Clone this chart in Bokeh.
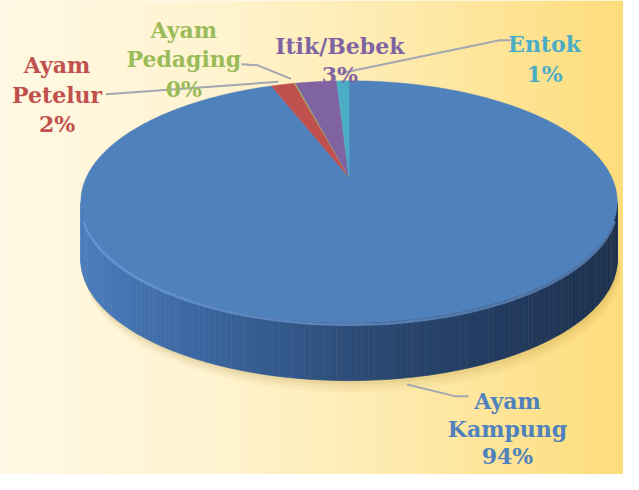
import numpy as np
from bokeh.plotting import figure
from bokeh.models import Range1d
from bokeh.core.properties import value
from bokeh.embed import file_html
from bokeh.resources import INLINE

# ---- data ----
categories = ["Ayam Kampung", "Ayam Petelur", "Ayam Pedaging", "Itik/Bebek", "Entok"]
shares = [94.3, 1.7, 0.1, 3.0, 0.9]
slice_colors = ["#4f81bd", "#c0504d", "#9bbb59", "#8064a2", "#4bacc6"]
label_lines = [["Ayam", "Kampung"], ["Ayam", "Petelur"], ["Ayam", "Pedaging"], ["Itik/Bebek"], ["Entok"]]

# ---- layout (reference pixel space) ----
W, H = 639, 490
X0, Y0, RX, RY, A, DEPTH = 357.5, 183.0, 269.5, 120.0, 0.2, 60.0
label_anchor = [(520, 414), (58, 67), (188, 30), (348, 47), (558, 45)]
line_steps = [28.5, 30.5, 30.5, 30.5, 30.5]
leaders = [
    ([417, 466, 480], [397, 409, 409]),
    ([108, 285], [97, 84]),
    ([247, 264, 298], [66, 67, 81]),
    None,
    ([350, 512, 523], [75, 41, 41]),
]

p = figure(width=623, height=474, x_range=Range1d(0, W), y_range=Range1d(H, 0),
           output_backend="svg", toolbar_location=None,
           x_axis_location=None, y_axis_location=None, min_border=0)
p.grid.visible = False
p.outline_line_color = None
p.background_fill_color = "#fff8e2"
p.border_fill_color = "#fff8e2"


def lerp_color(stops, t):
    t = min(max(t, 0.0), 1.0)
    for (t0, c0), (t1, c1) in zip(stops[:-1], stops[1:]):
        if t <= t1:
            f = (t - t0) / (t1 - t0) if t1 > t0 else 0
            c = [int(round(c0[i] + (c1[i] - c0[i]) * f)) for i in range(3)]
            return "#%02x%02x%02x" % tuple(c)
    return "#%02x%02x%02x" % tuple(stops[-1][1])


# background gradient
bg_stops = [(0.0, (255, 248, 227)), (0.35, (255, 244, 208)), (0.7, (254, 232, 165)), (1.0, (253, 220, 122))]
nb = 80
bx = np.linspace(0, W, nb + 1)
p.quad(left=bx[:-1], right=bx[1:] + 0.5, bottom=H, top=0,
       fill_color=[lerp_color(bg_stops, (bx[i] + bx[i + 1]) / 2 / W) for i in range(nb)],
       line_color=None)


def rim(theta_deg, dy=0.0):
    th = np.radians(theta_deg)
    u, v = np.sin(th), np.cos(th)
    w = 1 + A * v
    return X0 + RX * u / w, Y0 - RY * v / w + dy


# soft shadow
ths = np.linspace(0, 360, 241)
for off, alpha in [(12, 0.05), (8, 0.07), (4, 0.09)]:
    sx, sy = rim(ths, DEPTH + off)
    p.patch(sx + off * 0.3, sy, fill_color="#9c7a20", fill_alpha=alpha, line_color=None)

# side wall (front arc between horizontal extremes)
t_right = np.degrees(np.arccos(-A))
t_left = 360 - t_right
ns = 140
side_t = np.linspace(t_right, t_left, ns + 1)
side_stops = [(0.0, (74, 124, 190)), (0.25, (58, 100, 156)), (0.55, (42, 72, 114)),
              (0.8, (34, 58, 94)), (1.0, (29, 49, 80))]
sxs, sys_, scol = [], [], []
xmin_, span_ = X0 - RX * 1.02, 2 * RX * 1.02
for i in range(ns):
    xa, ya = rim(side_t[i])
    xb, yb = rim(side_t[i + 1])
    sxs.append([xa, xb, xb, xa])
    sys_.append([ya, yb, yb + DEPTH, ya + DEPTH])
    scol.append(lerp_color(side_stops, ((xa + xb) / 2 - xmin_) / span_))
p.patches(sxs, sys_, fill_color=scol, line_color=scol, line_width=0.6)

# bevel highlight on the front rim
hl_t = np.linspace(t_right + 8, t_left - 8, 120)
hx, hy = rim(hl_t, 2.0)
p.line(hx, hy, line_color="#7aaae6", line_width=3, line_alpha=0.55)

# top-face slices (clockwise from 12 o'clock)
total = sum(shares)
start = 0.0
wx, wy = [], []
for s in shares:
    ext = 360.0 * s / total
    tt = np.linspace(start, start + ext, max(3, int(ext * 2) + 2))
    rx_, ry_ = rim(tt)
    wx.append([X0] + list(rx_))
    wy.append([Y0] + list(ry_))
    start += ext
p.patches(wx, wy, fill_color=slice_colors, line_color=slice_colors, line_width=0.5)

# leader lines
for ld in leaders:
    if ld is None:
        continue
    p.line(ld[0], ld[1], line_color="#a3a7b0", line_width=2)

# labels
tx, ty, tt_, tc = [], [], [], []
for cat_lines, s, (ax, ay), c, stp in zip(label_lines, shares, label_anchor, slice_colors, line_steps):
    lines = cat_lines + ["%d%%" % int(round(s))]
    for k, ln in enumerate(lines):
        tx.append(ax)
        ty.append(ay + k * stp)
        tt_.append(ln)
        tc.append(c)
p.text(tx, ty, text=tt_, text_color=tc, text_align="center", text_baseline="alphabetic",
       text_font=value("DejaVu Serif"), text_font_style="bold", text_font_size="22px")

open("out.html", "w").write(file_html(p, INLINE))
